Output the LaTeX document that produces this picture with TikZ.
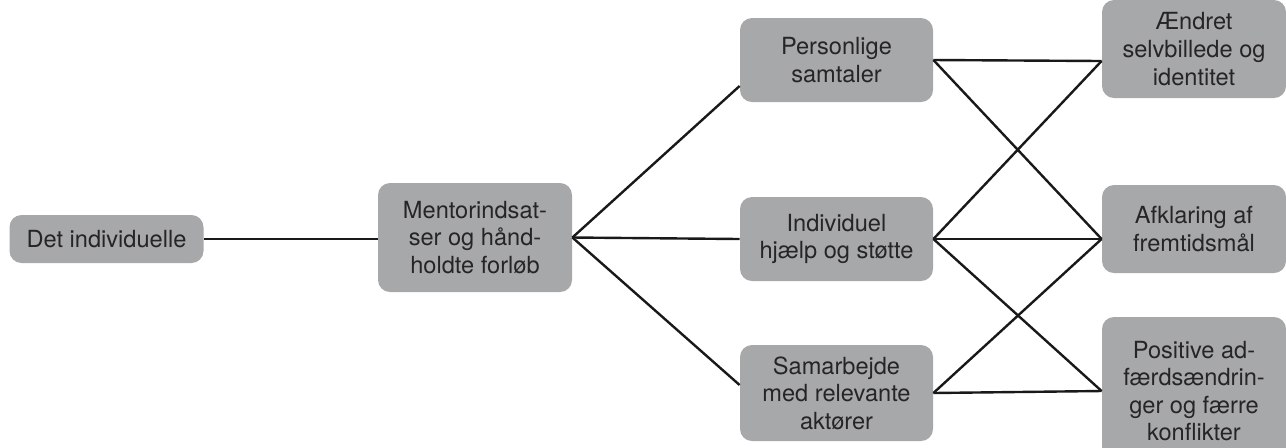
\documentclass[tikz,border=0pt]{standalone}
\usepackage{fontspec}
\setmainfont{TeX Gyre Heros}
\definecolor{boxgray}{RGB}{167,168,170}
\definecolor{inkgray}{RGB}{38,36,37}

\begin{document}
\begin{tikzpicture}[x=0.5pt, y=-0.5pt,
  box/.style={fill=boxgray, rounded corners=6pt, inner sep=0pt, align=center,
    text=inkgray, font=\fontsize{11.8}{13.8}\selectfont},
  link/.style={line width=1.2pt, draw=black!90}]

\def\colA{106.5}
\def\colB{475}
\def\colC{836.5}
\def\colD{1194}

\path [use as bounding box] (0,0) rectangle (1286,447);
\clip (0,0) rectangle (1286,447);

% START
\node [box, minimum width=97pt, minimum height=24pt] (indiv) at (\colA,239) {Det individuelle};

% EFFORT
\node [box, minimum width=97pt, minimum height=54.5pt] (mentor) at (\colB,237.5)
  {Mentorindsat-\\ser og hånd-\\holdte forløb};

% ACTIVITIES
\node [box, minimum width=96.5pt, minimum height=42pt] (samtale) at (\colC,60)
  {Personlige\\samtaler};
\node [box, minimum width=96.5pt, minimum height=42pt] (hjaelp) at (\colC,239)
  {Individuel\\hjælp og støtte};
\node [box, minimum width=96.5pt, minimum height=48pt] (samarb) at (\colC,393)
  {Samarbejde\\med relevante\\aktører};

% OUTCOMES
\node [box, minimum width=92pt, minimum height=49pt] (selvbil) at (\colD,49)
  {Ændret\\selvbillede og\\identitet};
\node [box, minimum width=92pt, minimum height=44pt] (afklar) at (\colD,229)
  {Afklaring af\\fremtidsmål};
\node [box, minimum width=92pt, minimum height=74pt] (adfaerd) at (\colD,391)
  {Positive ad-\\færdsændrin-\\ger og færre\\konflikter};

% LINKS
\draw [link] (indiv) -- (mentor.west |- indiv.east);
\draw [link] (mentor.east) -- ([yshift=-13pt]samtale.west);
\draw [link] (mentor.east) -- (hjaelp.west);
\draw [link] (mentor.east) -- ([yshift=4pt]samarb.west);

\draw [link] (samtale.east) -- ([yshift=-6pt]selvbil.west);
\draw [link] (samtale.east) -- ([yshift=-5pt]afklar.west);
\draw [link] (hjaelp.east) -- ([yshift=-6pt]selvbil.west);
\draw [link] (hjaelp.east) -- ([yshift=-5pt]afklar.west);
\draw [link] (hjaelp.east) -- (adfaerd.west);
\draw [link] (samarb.east) -- ([yshift=-5pt]afklar.west);
\draw [link] (samarb.east) -- (adfaerd.west);

\end{tikzpicture}
\end{document}
